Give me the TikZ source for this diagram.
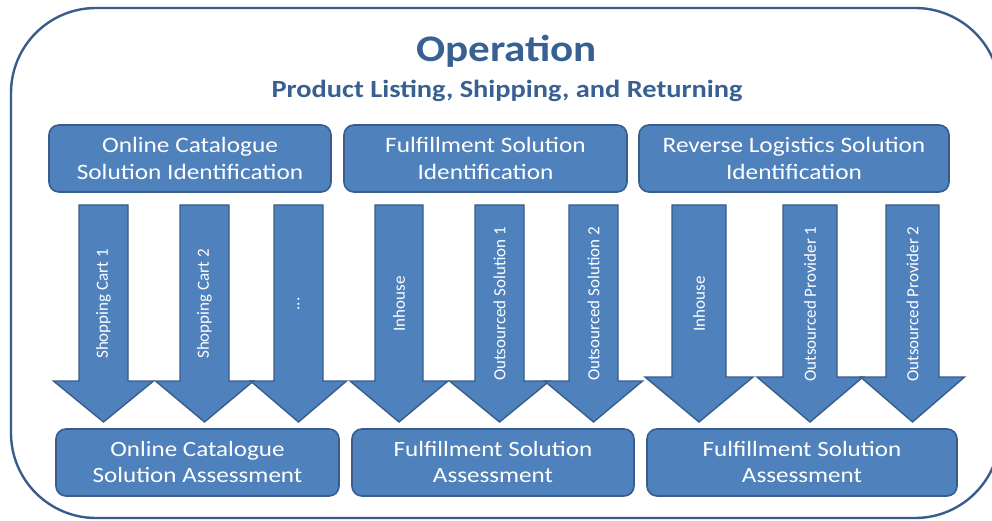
\documentclass[tikz,border=0pt]{standalone}
\usepackage{fontspec}
\setmainfont[FakeStretch=1.15]{Carlito}
\newfontfamily\arrfont{Carlito}
\definecolor{boxfill}{RGB}{79,129,189}
\definecolor{boxline}{RGB}{56,93,138}
\definecolor{titleblue}{RGB}{56,96,146}
\newcommand\bigarrow[6]{%
  \draw[arrowsty] (#1-#2,205) -- (#1+#2,205) -- (#1+#2,#4) -- (#1+#3,#4)
    -- (#1,422) -- (#1-#3,#4) -- (#1-#2,#4) -- cycle;
  \node[arrlabel] (#5) at (#1,304) {#6};}
\begin{document}
\begin{tikzpicture}[x=1pt,y=-1pt,
  outerbox/.style={draw=boxline, line width=2.4pt, rounded corners=85pt},
  box/.style={draw=boxline, line width=1.6pt, fill=boxfill, rounded corners=10pt,
    text=white, align=center, minimum height=67pt, inner sep=0pt},
  topbox/.style={box, font=\fontsize{22}{27}\selectfont},
  botbox/.style={box, font=\fontsize{21.8}{26}\selectfont},
  arrowsty/.style={draw=boxline, line width=1.4pt, fill=boxfill, line join=miter},
  arrlabel/.style={rotate=90, text=white, inner sep=0pt, font=\arrfont\fontsize{17}{20}\selectfont},
  titlesty/.style={text=titleblue, font=\bfseries\fontsize{37.5}{40}\selectfont, anchor=base, inner sep=0pt},
  substy/.style={text=titleblue, font=\bfseries\fontsize{24.7}{28}\selectfont, anchor=base, inner sep=0pt}]
\useasboundingbox (0,0) rectangle (992,521);
\fill[white] (0,0) rectangle (992,521);
\draw[outerbox] (11,8) rectangle (1000,518);
\node[titlesty] (title) at (506.5,62) {Operation};
\node[substy] (subtitle) at (507,98) {Product Listing, Shipping, and Returning};

\node[topbox, minimum width=282pt] (a1) at (190,158.5) {Online Catalogue\\Solution Identification};
\node[topbox, minimum width=283pt] (a2) at (485.5,158.5) {Fulfillment Solution\\Identification};
\node[topbox, minimum width=310pt] (a3) at (794,158.5) {Reverse Logistics Solution\\Identification};

\bigarrow{103.5}{24.5}{50}{381}{r1}{Shopping Cart 1}
\bigarrow{204.5}{24.5}{49}{381}{r2}{Shopping Cart 2}
\bigarrow{298.5}{24.5}{48}{381}{r3}{...}
\bigarrow{399}{24}{49}{381}{f1}{Inhouse}
\bigarrow{499.5}{24.5}{50}{381}{f2}{Outsourced Solution 1}
\bigarrow{593.5}{24.5}{49}{381}{f3}{Outsourced Solution 2}
\bigarrow{699}{27}{54}{377}{g1}{Inhouse}
\bigarrow{810}{27}{53}{377}{g2}{Outsourced Provider 1}
\bigarrow{912.5}{26.5}{52}{377}{g3}{Outsourced Provider 2}

\node[botbox, minimum width=283pt] (b1) at (197.5,462.5) {Online Catalogue\\Solution Assessment};
\node[botbox, minimum width=282pt] (b2) at (493,462.5) {Fulfillment Solution\\Assessment};
\node[botbox, minimum width=310pt] (b3) at (802,462.5) {Fulfillment Solution\\Assessment};
\end{tikzpicture}
\end{document}
